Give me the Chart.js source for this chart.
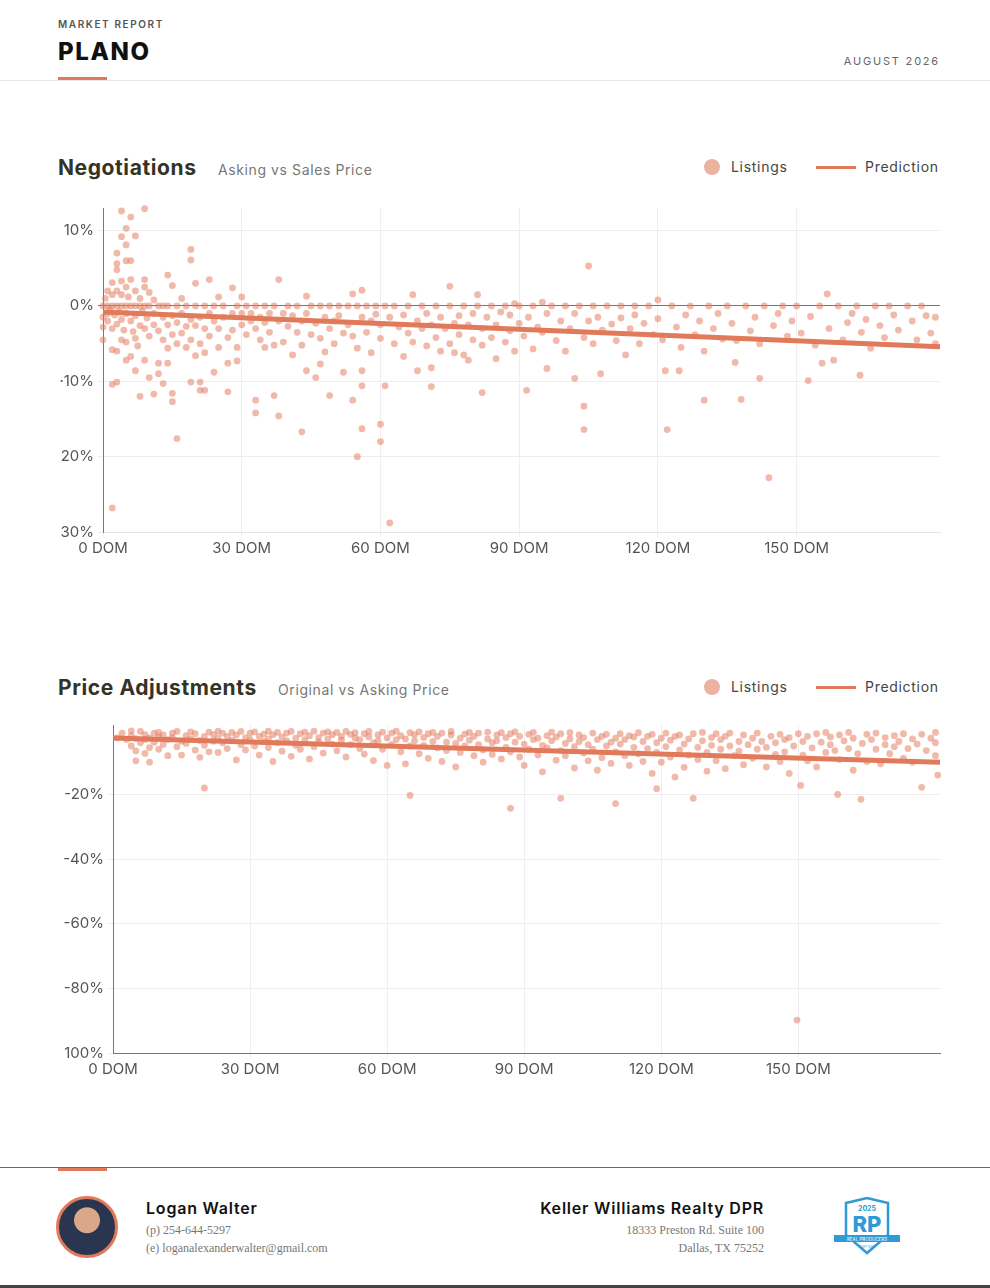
<!DOCTYPE html>
<html>
<head>
<meta charset="utf-8">
<script src="https://cdn.jsdelivr.net/npm/chart.js@4.4.1/dist/chart.umd.min.js"></script>
<style>
  body { margin:0; width:990px; height:1288px; position:relative; background:#fff; font-family:Inter, "Noto Sans", sans-serif; color:#2b2b25; overflow:hidden; }
  .abs { position:absolute; }
  .kicker { left:58px; top:18px; font-size:10px; letter-spacing:1.6px; font-weight:600; color:#555; }
  .city { left:58px; top:37px; font-size:24px; font-weight:800; letter-spacing:1.6px; color:#111; }
  .date { right:50px; top:54px; font-size:11px; letter-spacing:1.8px; color:#666; }
  .title { font-size:21px; font-weight:700; color:#333326; letter-spacing:0.6px; }
  .sub { font-size:14px; color:#777; letter-spacing:0.6px; }
  .leg { font-size:14px; color:#444; letter-spacing:0.7px; }
  .dot { width:16px; height:16px; border-radius:50%; background:#ebb3a0; }
  .pline { width:40px; height:3px; background:#e07a5a; }
  .serif { font-family:"Liberation Serif", "DejaVu Serif", serif; font-size:12px; color:#777; }
</style>
</head>
<body>
<div class="abs kicker">MARKET REPORT</div>
<div class="abs city">PLANO</div>
<div class="abs" style="left:58px;top:77px;width:49px;height:3px;background:#e07a5a"></div>
<div class="abs" style="left:0;top:80px;width:990px;height:1px;background:#e8e8e8"></div>
<div class="abs date">AUGUST 2026</div>

<div class="abs title" style="left:58px;top:155px">Negotiations</div>
<div class="abs sub" style="left:218px;top:161px">Asking vs Sales Price</div>
<div class="abs dot" style="left:704px;top:159px"></div>
<div class="abs leg" style="left:731px;top:158px">Listings</div>
<div class="abs pline" style="left:816px;top:166px"></div>
<div class="abs leg" style="left:865px;top:158px">Prediction</div>
<div class="abs" style="left:50px;top:195px;width:894px;height:372px"><canvas id="chart-neg"></canvas></div>

<div class="abs title" style="left:58px;top:675px">Price Adjustments</div>
<div class="abs sub" style="left:278px;top:681px">Original vs Asking Price</div>
<div class="abs dot" style="left:704px;top:679px"></div>
<div class="abs leg" style="left:731px;top:678px">Listings</div>
<div class="abs pline" style="left:816px;top:686px"></div>
<div class="abs leg" style="left:865px;top:678px">Prediction</div>
<div class="abs" style="left:50px;top:712px;width:894px;height:376px"><canvas id="chart-adj"></canvas></div>

<!-- footer -->
<div class="abs" style="left:0;top:1167px;width:990px;height:1px;background:#6a6a5e"></div>
<div class="abs" style="left:58px;top:1168px;width:49px;height:3px;background:#e07a5a"></div>
<div class="abs" style="left:56px;top:1196px;width:56px;height:56px;border-radius:50%;border:3px solid #e07a5a;background:radial-gradient(circle at 50% 38%, #d9a88a 0 28%, #2a3550 30% 100%)"></div>
<div class="abs" style="left:146px;top:1198px;font-size:16px;font-weight:600;letter-spacing:0.8px;color:#111">Logan Walter</div>
<div class="abs serif" style="left:146px;top:1223px">(p) 254-644-5297</div>
<div class="abs serif" style="left:146px;top:1241px">(e) loganalexanderwalter@gmail.com</div>
<div class="abs" style="right:226px;top:1198px;font-size:16px;font-weight:600;letter-spacing:0.8px;color:#111">Keller Williams Realty DPR</div>
<div class="abs serif" style="right:226px;top:1223px">18333 Preston Rd. Suite 100</div>
<div class="abs serif" style="right:226px;top:1241px">Dallas, TX 75252</div>
<svg class="abs" style="left:832px;top:1197px" width="70" height="60" viewBox="0 0 70 60">
  <path d="M14 6 L35 1 L56 6 L56 38 L35 56 L14 38 Z" fill="#fff" stroke="#2f9ad6" stroke-width="2.5"/>
  <text x="35" y="14" font-size="7" font-weight="700" fill="#2f9ad6" text-anchor="middle" font-family="Inter">2025</text>
  <text x="35" y="35" font-size="22" font-weight="800" fill="#2f9ad6" text-anchor="middle" font-family="Inter">RP</text>
  <rect x="2" y="38" width="66" height="7" fill="#2f9ad6"/>
  <text x="35" y="43.5" font-size="4.5" fill="#fff" text-anchor="middle" font-family="Inter">REAL PRODUCERS</text>
  <text x="35" y="51" font-size="4" fill="#2f9ad6" text-anchor="middle" font-family="Inter">TOP 500</text>
</svg>
<div class="abs" style="left:0;top:1285px;width:990px;height:3px;background:#444"></div>

<script>
// Negotiations: [days on market, % asking vs sales]
const negotiationPoints = [
[0,0],[0,-1.5],[0,-2.8],[0,-4.5],[0.5,1],[1,0],[1,-1],[1,-2],[1,2],[1.5,-0.5],[2,0],[2,1.5],[2,-3],[2,-5.8],[2,3.1],[2,-26.8],[2,-10.4],[2.5,-1.2],
[3,0],[3,2],[3,-2.4],[3,-6],[3,4.8],[3,5.6],[3,7],[3,-10.1],[3.5,-0.8],[4,0],[4,1.5],[4,-1.8],[4,3.3],[4,-4.5],[4,9.2],[4,12.6],[4.5,-3.2],
[5,0],[5,2.5],[5,-1],[5,-4.8],[5,6],[5,8.1],[5,10.3],[5,-7.2],[5.5,1.2],[6,0],[6,-2],[6,3.5],[6,-6.7],[6,11.8],[6,6],[6.5,-3.4],
[7,0],[7,-1.3],[7,2],[7,-4.3],[7,9.3],[7,-8.6],[7.5,-5.3],[8,0],[8,1],[8,-2.6],[8,-12],[8.5,-0.7],[9,0],[9,3.5],[9,-3],[9,-7.2],[9,12.9],[9,2.5],[9.5,-1.6],
[10,0],[10,-4],[10,-9.5],[10,1.8],[11,-1],[11,-2.5],[11,-11.7],[11,0.8],[12,0],[12,-3.3],[12,-7.6],[12,-9],[13,-1.5],[13,0],[13,-4.5],[13,-10.3],
[14,-2.5],[14,4.1],[14,0],[14,-7.6],[14,-5.6],[15,-1.3],[15,-11.6],[15,-12.7],[15,-3.8],[15,2.7],[16,0],[16,-17.6],[16,-2.2],[16,-5],[17,-1],[17,1],[17,-3.6],
[18,0],[18,-5.5],[18,-2.7],[19,7.5],[19,6.1],[19,-1.8],[19,-10.1],[19,-4.5],[20,0],[20,3],[20,-2.6],[20,-6.6],[21,-10.1],[21,-11.2],[21,-1.5],[21,-5],
[22,0],[22,-3],[22,-11.2],[22,-6.2],[23,3.5],[23,-1],[23,-4],[24,0],[24,-2],[24,-8.8],[25,1.2],[25,-3],[25,-5.5],[26,-1.5],[26,0],[27,-4.2],[27,-11.4],[27,-7.6],
[28,2.4],[28,-1],[28,-3.2],[29,0],[29,-5.5],[29,-7.3],[30,-2.5],[30,-1],[30,1.2],[31,0],[31,-3.8],[32,-2],[32,-1],[33,-12.5],[33,-14.2],[33,0],[33,-3],
[34,-1.5],[34,-4.5],[35,0],[35,-2.2],[35,-5.5],[36,-1],[36,-3.5],[37,-11.9],[37,-5.2],[37,0],[38,3.5],[38,-14.6],[38,-2],[39,-1],[39,-4.8],[40,0],[40,-2.7],
[41,-6.5],[41,-1.3],[42,0],[42,-3.5],[43,-16.7],[43,-5.2],[43,-2],[44,1.3],[44,-8.6],[44,-1],[45,0],[45,-3.8],[46,-2.3],[46,-9.5],[47,0],[47,-4.3],[47,-7.7],
[48,-1.5],[48,-6.1],[49,-11.9],[49,0],[49,-3],[50,-2],[50,-5],[51,0],[51,-1.3],[52,-3.6],[52,-8.8],[53,0],[53,-2.5],[54,1.6],[54,-12.5],[54,-4],
[55,-20],[55,0],[55,-5.6],[56,2.1],[56,-10.6],[56,-16.3],[56,-8.6],[56,-1.5],[57,0],[57,-3.5],[58,-2],[58,-6.2],[59,0],[59,-1.1],[60,-15.7],[60,-18],[60,-4.3],[60,-2.5],
[61,-10.6],[61,0],[62,-28.8],[62,-1.5],[63,-5],[63,0],[64,-2.8],[65,-6.7],[65,-1.2],[66,0],[66,-3.6],[67,1.5],[67,-4.8],[68,-8.6],[68,-2],[69,0],[69,-3],
[70,-5.3],[70,-1],[71,-10.7],[71,-8.2],[71,-2.5],[72,0],[72,-4.2],[73,-1.5],[73,-6],[74,-3],[75,2.6],[75,0],[75,-5],[76,-2.3],[76,-6.2],[77,-1.3],[77,-3.8],
[78,0],[78,-6.5],[79,-2.5],[79,-7.2],[80,-1],[80,-4.5],[81,1.5],[81,0],[82,-11.5],[82,-3],[82,-5.2],[83,-1.5],[84,0],[84,-4.2],[85,-2.5],[85,-7],[86,-0.8],
[87,0],[87,-4.8],[88,-3.3],[88,-1.2],[89,0.3],[89,-6],[90,-2.3],[90,0],[91,-4],[91.6,-11.2],[92,-1.5],[93,0],[93,-5.7],[94,-2.8],[95,0.5],[95,-3.5],
[96,-8.3],[96,-1],[97,0],[98,-4.6],[99,-2],[100,0],[100,-6],[101,-3],[102,-9.6],[102,-1],[103,0],[104,-13.3],[104,-16.4],[104,-4.2],[105,5.3],[105,-2],
[106,0],[106,-5],[107,-1.5],[107.6,-9],[108,-3.2],[109,0],[110,-2.4],[111,-4.6],[112,0],[112,-1.6],[113,-6.5],[114,-3],[115,0],[115,-1.2],[116,-5],[117,-2.3],
[118,0],[119,-3.8],[120,0.8],[120,-1.7],[121,-4.5],[121.6,-8.6],[122,-16.4],[123,0],[124,-2.8],[124.6,-8.6],[125,-5.5],[126,-1.2],[127,0],[128,-3.8],[129,-2],
[130,-12.5],[130,-6],[131,0],[132,-3],[133,-1],[134,-4.4],[135,0],[136,-2.3],[136.7,-7.5],[137,-4.6],[138,-12.4],[139,0],[140,-3.3],[141,-1.5],[142,-9.6],[142,-5],
[143,0],[144,-22.8],[145,-2.6],[146,-1],[147,0],[148,-4],[149,-2],[150,0],[151,-3.6],[152.5,-9.9],[153,-1.4],[154,-5.2],[155,0],[155.5,-7.6],[156.6,1.6],
[157,-3],[158,-7.2],[159,0],[160,-4.5],[161,-2.2],[162,-1],[163,0],[163.7,-9.2],[164,-3.5],[165,-1.8],[166,-5.6],[167,0],[168,-2.6],[169,-4.2],[170,0],
[171,-1.2],[172,-3.2],[174,0],[175,-2],[176,-4.5],[177,0],[178,-1.3],[179,-3.6],[180,-1.5],[180,-5]
];
const negotiationPrediction = [[0,-0.8],[181,-5.4]];
const negotiationTicks = [10, 0, -10, -20, -30];
const negotiationLabels = ['10%', '0%', '·10%', '20%', '30%'];

// Price adjustments: [days on market, % original vs asking]
const adjustmentPoints = [
[1,-2.5],[2,-1],[3,-3],[4,-0.3],[4,-1.8],[4,-5],[5,-6.5],[5,-2.7],[5,-9.6],[6,-0.5],[6,-4],[7,-1.5],[7,-3],[7,-7.3],[8,-2.5],[8,-5.5],[8,-10],[9,-1],[9,-3.8],
[10,-0.8],[10,-2.2],[10,-6],[11,-4.5],[11,-1.6],[12,-3],[12,-8],[13,-1],[13,-2.4],[14,-5.2],[14,-0.5],[15,-3.5],[15,-7.8],[16,-1.8],[16,-4.2],[17,-0.6],[17,-2.8],
[18,-6.3],[18,-1.2],[19,-3.3],[19,-8.5],[20,-18],[20,-2],[20,-4.8],[21,-0.7],[21,-6.8],[22,-1.5],[22,-3.5],[23,-0.4],[23,-2.6],[23,-7],[24,-4],[24,-1],
[25,-2],[25,-5.8],[26,-0.8],[26,-3.2],[27,-1.6],[27,-9.3],[28,-0.5],[28,-4.6],[29,-2.4],[29,-6.2],[30,-1],[30,-3],[31,-0.6],[31,-5],[32,-2],[32,-7.8],
[33,-1.3],[33,-3.6],[34,-0.4],[34,-2.8],[34,-5.5],[35,-1.5],[35,-9.8],[36,-0.8],[36,-4],[37,-2.2],[37,-6.6],[38,-1],[38,-3.4],[39,-0.5],[39,-8.2],
[40,-2.6],[40,-4.8],[41,-1.2],[41,-6],[42,-0.7],[42,-3],[43,-1.8],[43,-9],[44,-0.4],[44,-5.2],[45,-2.4],[45,-3.8],[46,-1],[46,-7.2],[47,-0.6],[47,-2.8],
[48,-4.4],[48,-1.5],[49,-0.8],[49,-6.5],[50,-3.2],[50,-2],[51,-0.5],[51,-8.4],[52,-1.4],[52,-4.6],[53,-2.6],[53,-0.9],[54,-5.8],[54,-3],[55,-1.2],[55,-7.5],
[56,-0.5],[56,-2.2],[57,-4],[57,-9.5],[58,-1.6],[58,-3.4],[59,-0.7],[59,-6],[60,-2.5],[60,-11],[61,-1],[61,-4.5],[62,-0.4],[62,-3],[63,-6.8],[63,-1.8],
[64,-2.8],[64,-10.5],[65,-20.3],[65,-0.9],[65,-5],[66,-3.4],[66,-1.5],[67,-7.4],[67,-0.6],[68,-2.4],[68,-4.8],[69,-1.2],[69,-8.8],[70,-3.6],[70,-0.8],
[71,-5.6],[71,-2],[72,-1],[72,-9.8],[73,-3.8],[73,-6.4],[74,-1.6],[74,-0.5],[75,-4.2],[75,-11.5],[76,-2.6],[76,-7],[77,-1.3],[77,-5],[78,-0.8],[78,-3.2],
[79,-8],[79,-2],[80,-4.6],[80,-1],[81,-6.2],[81,-10],[82,-2.8],[82,-0.7],[83,-4],[83,-7.6],[84,-1.6],[84,-3.4],[85,-0.9],[85,-9],[86,-5.4],[86,-2.4],
[87,-24.3],[87,-1.2],[87,-6.8],[88,-3.8],[88,-0.6],[89,-8.4],[89,-2],[90,-4.4],[90,-11],[91,-1.4],[91,-6],[92,-3],[92,-0.8],[93,-7.8],[93,-2.6],[94,-4.8],
[94,-13],[95,-1.8],[95,-5.6],[96,-0.7],[96,-3.4],[97,-9.4],[97,-2.2],[98,-21.2],[98,-6.4],[98,-1.2],[99,-4.2],[99,-8],[100,-2.8],[100,-0.9],[101,-5.2],
[101,-11.8],[102,-3.6],[102,-1.6],[103,-7.2],[103,-2.4],[104,-4.6],[104,-9.6],[105,-1],[105,-6],[106,-3],[106,-12.5],[107,-2],[107,-8.6],[108,-5],[108,-1.4],
[109,-3.8],[109,-10.4],[110,-22.8],[110,-2.6],[110,-6.8],[111,-1.2],[111,-4.4],[112,-8],[112,-3],[113,-1.8],[113,-11],[114,-5.4],[114,-2.2],[115,-0.9],
[115,-7.4],[116,-3.6],[116,-9.8],[117,-2],[117,-5.8],[118,-1.4],[118,-13.5],[119,-18.2],[119,-4],[119,-7],[120,-2.6],[120,-10],[121,-1],[121,-5.2],
[122,-3.2],[122,-8.4],[123,-2],[123,-14.6],[124,-6.2],[124,-1.6],[125,-4.4],[125,-11.6],[126,-2.8],[126,-7.8],[127,-21.2],[127,-1.2],[128,-5.4],[128,-9.2],
[129,-3.4],[129,-0.8],[130,-7],[130,-12.8],[131,-2.4],[131,-4.8],[132,-1.2],[132,-9.6],[133,-6],[133,-3],[134,-2],[134,-12],[135,-5],[135,-1],[136,-8],
[137,-3.6],[137,-6.6],[138,-1.6],[138,-10.8],[139,-4.6],[140,-2.6],[140,-8.8],[141,-6],[141,-1],[142,-3.6],[143,-11.5],[143,-5.4],[144,-2],[145,-7.6],
[145,-4],[146,-1.4],[146,-9.8],[147,-3],[147,-6.8],[148,-2.4],[148,-13.5],[149,-5],[149.7,-89.8],[150,-1.2],[150.5,-17.2],[151,-7.8],[151,-3.6],[152,-9.6],
[152,-2],[153,-5.6],[154,-1.2],[154,-11.5],[155,-3.8],[156,-7],[156,-0.8],[157,-4.6],[157,-2.2],[158.6,-20],[158,-6.4],[159,-1.6],[159,-9.2],[160,-3.4],
[161,-5.8],[161,-0.8],[162,-12.5],[162,-2.6],[163.7,-21.5],[163,-7.4],[164,-4.2],[165,-1.4],[165,-9.8],[166,-3],[167,-6],[167,-1],[168,-10.5],[169,-4.6],
[169,-2.4],[170,-7.4],[171,-1.8],[171,-5.2],[172,-3.6],[173,-8.8],[173,-1.2],[174,-5.8],[175,-2.8],[175,-10],[176,-4.4],[177,-17.8],[177,-1.4],[178,-6.4],
[179,-2.6],[180,-0.8],[180,-8],[180.5,-14],[180,-4]
];
const adjustmentPrediction = [[0,-2.5],[181,-10]];
const adjustmentTicks = [-20, -40, -60, -80, -100];
const adjustmentLabels = ['-20%', '-40%', '-60%', '-80%', '100%'];

const domTicks = [0, 30, 60, 90, 120, 150];

const toXY = pts => pts.map(p => ({ x: p[0], y: p[1] }));
const tickFont = { family: 'Inter', size: 15 };

function makeScatter(id, points, prediction, yMin, yMax, yTicks, yLabels, yWidth, opts) {
    return new Chart(document.getElementById(id), {
        type: 'scatter',
        data: {
            datasets: [
                {
                    type: 'line',
                    data: toXY(prediction),
                    borderColor: '#e07a5a',
                    borderWidth: 5,
                    pointRadius: 0,
                    clip: false
                },
                {
                    data: toXY(points),
                    backgroundColor: 'rgba(228,128,98,0.55)',
                    borderWidth: 0,
                    pointRadius: 3.4,
                    clip: false
                }
            ]
        },
        options: {
            responsive: true,
            maintainAspectRatio: false,
            animation: false,
            layout: { padding: 0 },
            plugins: { legend: { display: false }, tooltip: { enabled: false } },
            scales: {
                x: {
                    type: 'linear',
                    min: 0,
                    max: 181,
                    afterBuildTicks: axis => { axis.ticks = domTicks.map(v => ({ value: v })); },
                    afterFit: axis => { axis.height = 35; },
                    ticks: { color: '#555', font: tickFont, padding: 2, callback: v => v + ' DOM' },
                    grid: { color: '#eeeeee', tickLength: 5, drawTicks: true },
                    border: { color: opts.xBorder, width: 1 }
                },
                y: {
                    min: yMin,
                    max: yMax,
                    afterBuildTicks: axis => { axis.ticks = yTicks.map(v => ({ value: v })); },
                    afterFit: axis => { axis.width = yWidth; },
                    ticks: {
                        color: '#555',
                        font: tickFont,
                        padding: 4,
                        callback: v => yLabels[yTicks.indexOf(v)]
                    },
                    grid: {
                        color: ctx => (ctx.tick && ctx.tick.value === 0 ? '#777' : '#eeeeee'),
                        tickLength: 5
                    },
                    border: { color: '#777', width: 1 }
                }
            }
        }
    });
}

makeScatter('chart-neg', negotiationPoints, negotiationPrediction, -30, 13,
    negotiationTicks, negotiationLabels, 53, { xBorder: '#e5e5e5' });
makeScatter('chart-adj', adjustmentPoints, adjustmentPrediction, -100, 1.5,
    adjustmentTicks, adjustmentLabels, 63, { xBorder: '#777' });
</script>
</body>
</html>
